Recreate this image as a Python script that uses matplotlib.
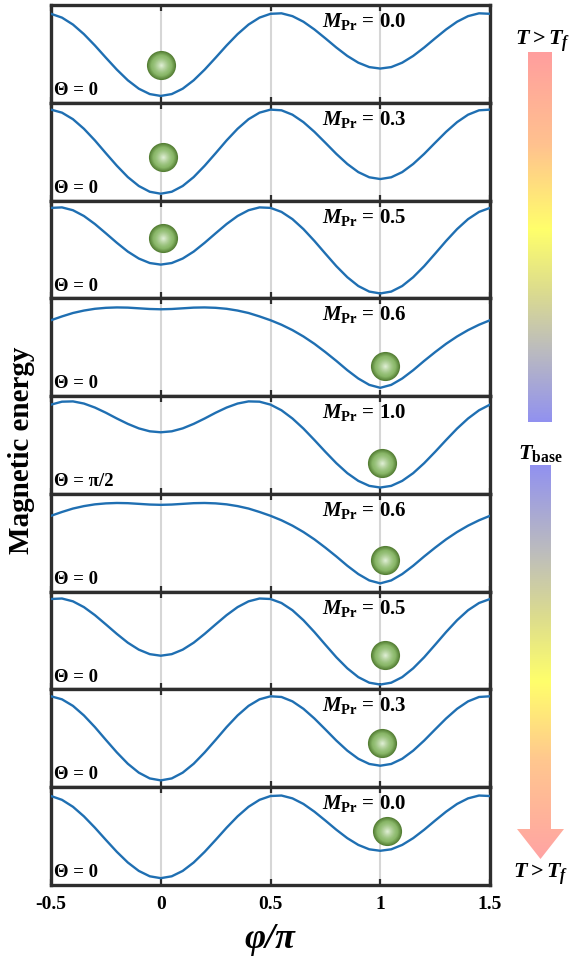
import numpy as np
import matplotlib
matplotlib.use("Agg")
import matplotlib.pyplot as plt
from matplotlib.colors import LinearSegmentedColormap, to_rgb
from matplotlib.patches import Polygon

plt.rcParams["font.family"] = ["Liberation Serif", "DejaVu Serif"]
plt.rcParams["font.weight"] = "bold"
plt.rcParams["mathtext.fontset"] = "custom"
plt.rcParams["mathtext.rm"] = "Liberation Serif:bold"
plt.rcParams["mathtext.it"] = "Liberation Serif:italic:bold"
plt.rcParams["mathtext.bf"] = "Liberation Serif:bold"

# ---------------- data ----------------
phi = np.linspace(-0.5, 1.5, 41)   # phi / pi sample grid

energy_M00 = [0.910, 0.871, 0.800, 0.702, 0.586, 0.461, 0.339, 0.230, 0.144, 0.089, 0.070,
              0.089, 0.144, 0.230, 0.339, 0.461, 0.586, 0.702, 0.800, 0.871, 0.910,
              0.915, 0.886, 0.829, 0.750, 0.659, 0.565, 0.479, 0.410, 0.365, 0.350,
              0.365, 0.410, 0.479, 0.565, 0.659, 0.750, 0.829, 0.886, 0.915, 0.910]
energy_M03 = [0.930, 0.899, 0.832, 0.734, 0.615, 0.484, 0.356, 0.240, 0.149, 0.090, 0.070,
              0.090, 0.149, 0.240, 0.356, 0.484, 0.615, 0.734, 0.832, 0.899, 0.930,
              0.923, 0.878, 0.802, 0.703, 0.591, 0.477, 0.374, 0.291, 0.238, 0.220,
              0.238, 0.291, 0.374, 0.477, 0.591, 0.703, 0.802, 0.878, 0.923, 0.930]
energy_M05 = [0.925, 0.930, 0.901, 0.842, 0.760, 0.665, 0.568, 0.478, 0.407, 0.361, 0.345,
              0.361, 0.407, 0.478, 0.568, 0.665, 0.760, 0.842, 0.901, 0.930, 0.925,
              0.884, 0.810, 0.708, 0.587, 0.457, 0.329, 0.216, 0.126, 0.069, 0.050,
              0.069, 0.126, 0.216, 0.329, 0.457, 0.587, 0.708, 0.810, 0.884, 0.925]
energy_M06 = [0.776, 0.815, 0.850, 0.875, 0.893, 0.903, 0.907, 0.905, 0.898, 0.891, 0.888,
              0.891, 0.898, 0.905, 0.907, 0.903, 0.893, 0.875, 0.850, 0.815, 0.776,
              0.730, 0.675, 0.610, 0.535, 0.450, 0.360, 0.265, 0.180, 0.115, 0.085,
              0.115, 0.180, 0.265, 0.360, 0.450, 0.535, 0.610, 0.675, 0.730, 0.776]
energy_M10 = [0.913, 0.943, 0.946, 0.924, 0.883, 0.830, 0.771, 0.716, 0.670, 0.640, 0.630,
              0.640, 0.670, 0.716, 0.771, 0.830, 0.883, 0.924, 0.946, 0.943, 0.913,
              0.855, 0.771, 0.668, 0.551, 0.430, 0.314, 0.212, 0.133, 0.082, 0.065,
              0.082, 0.133, 0.212, 0.314, 0.430, 0.551, 0.668, 0.771, 0.855, 0.913]

panel_curves = [energy_M00, energy_M03, energy_M05, energy_M06, energy_M10,
                energy_M06, energy_M05, energy_M03, energy_M00]
panel_M = ["0.0", "0.3", "0.5", "0.6", "1.0", "0.6", "0.5", "0.3", "0.0"]
panel_theta = ["0", "0", "0", "0", "π/2", "0", "0", "0", "0"]
ball_x = [0.00, 0.01, 0.01, 1.02, 1.01, 1.02, 1.02, 1.01, 1.03]
ball_y = [0.39, 0.45, 0.62, 0.31, 0.32, 0.32, 0.35, 0.45, 0.55]

xticks = [-0.5, 0, 0.5, 1, 1.5]
xtick_labels = ["-0.5", "0", "0.5", "1", "1.5"]
grid_x = [0, 0.5, 1]

# ---------------- figure ----------------
W, H = 579, 959
fig = plt.figure(figsize=(W / 100, H / 100), dpi=100)
left, right, top, bottom = 51 / W, 490 / W, 1 - 5 / H, 1 - 885 / H
axes = fig.subplots(9, 1, sharex=True, gridspec_kw=dict(hspace=0))
fig.subplots_adjust(left=left, right=right, top=top, bottom=bottom)

curve_color = "#1f6fb2"
spine_color = "#2e2e2e"

ball_edge = np.array(to_rgb("#557f35"))
ball_mid = np.array(to_rgb("#8ab869"))
ball_hi = np.array(to_rgb("#dcecd0"))

def draw_ball(ax, x, y):
    n = 14
    for k in range(n):
        r = 1 - k / n
        t = k / (n - 1)
        if t < 0.3:
            c = ball_edge + (ball_mid - ball_edge) * (t / 0.3)
        else:
            c = ball_mid + (ball_hi - ball_mid) * ((t - 0.3) / 0.7) ** 1.3
        ax.scatter([x], [y], s=440 * r * r, color=c, zorder=5 + k * 0.01,
                   linewidths=0, clip_on=False)

for i, ax in enumerate(axes):
    ax.set_xlim(-0.5, 1.5)
    ax.set_ylim(0, 1)
    for gx in grid_x:
        ax.axvline(gx, color="#d6d6d6", lw=1.5, zorder=0)
    ax.plot(phi, panel_curves[i], color=curve_color, lw=1.7, zorder=3)
    draw_ball(ax, ball_x[i], ball_y[i])
    ax.text(0.735, 0.775, r"$M_{\mathrm{Pr}}$" + " = " + panel_M[i],
            fontsize=15, fontweight="bold", ha="left", va="baseline", zorder=6)
    ax.text(-0.487, 0.08, "Θ = " + panel_theta[i], fontsize=13.5,
            fontweight="bold", ha="left", va="baseline", zorder=6)
    ax.set_yticks([])
    ax.set_xticks(xticks)
    ax.tick_params(axis="x", direction="in", top=True, bottom=True, length=4,
                   width=1.6, color=spine_color, labelsize=14, pad=8)
    for sp in ax.spines.values():
        sp.set_linewidth(2.4)
        sp.set_color(spine_color)
    if i < 8:
        ax.tick_params(axis="x", labelbottom=False)

axes[-1].set_xticklabels(xtick_labels, fontweight="bold")

fig.text(270 / W, 1 - 940 / H, "φ/π", fontsize=26, fontweight="bold",
         fontstyle="italic", ha="center", va="center")
fig.text(22 / W, 1 - 450 / H, "Magnetic energy", fontsize=21, fontweight="bold",
         rotation=90, ha="center", va="center")

# ---------------- temperature bars ----------------
ov = fig.add_axes([0, 0, 1, 1], zorder=10)
ov.patch.set_alpha(0)
ov.axis("off")

cmap_top = LinearSegmentedColormap.from_list("tdown", [
    (0.00, (1.00, 0.62, 0.62)),
    (0.25, (1.00, 0.76, 0.56)),
    (0.48, (1.00, 1.00, 0.42)),
    (0.65, (0.86, 0.86, 0.56)),
    (0.80, (0.74, 0.74, 0.74)),
    (1.00, (0.57, 0.57, 0.94)),
])
cmap_bot = LinearSegmentedColormap.from_list("tup", [
    (0.00, (0.57, 0.57, 0.94)),
    (0.22, (0.74, 0.74, 0.74)),
    (0.38, (0.86, 0.86, 0.56)),
    (0.55, (1.00, 1.00, 0.42)),
    (0.75, (1.00, 0.78, 0.56)),
    (1.00, (1.00, 0.64, 0.64)),
])
grad = np.linspace(0, 1, 256).reshape(-1, 1)
ov.imshow(grad, extent=(528, 552, 422, 52), cmap=cmap_top, aspect="auto",
          origin="upper", interpolation="bilinear")
arrow = Polygon([(530, 465), (551, 465), (551, 829), (564, 829), (540.5, 859),
                 (517, 829), (530, 829)], closed=True, facecolor="none",
                edgecolor="none")
ov.add_patch(arrow)
im = ov.imshow(grad, extent=(516, 565, 859, 465), cmap=cmap_bot, aspect="auto",
               origin="upper", interpolation="bilinear")
im.set_clip_path(arrow)
ov.set_xlim(0, W)
ov.set_ylim(H, 0)

ov.text(543, 45, r"$T > T_f$", fontsize=16, ha="center", va="baseline")
ov.text(540, 459, r"$T_{\mathrm{base}}$", fontsize=16, ha="center", va="baseline")
ov.text(541, 878, r"$T > T_f$", fontsize=16, ha="center", va="baseline")

fig.savefig("out.png", dpi=100)
